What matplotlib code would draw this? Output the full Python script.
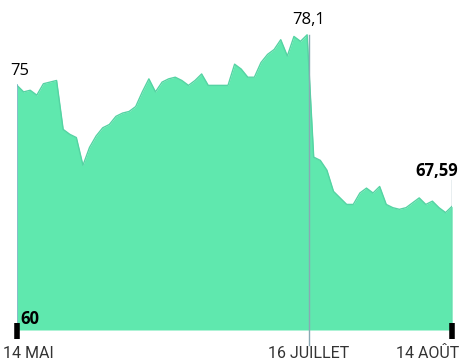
import matplotlib.pyplot as plt

# cours de clôture, séances du 14 mai au 14 août
cours = [75.0, 74.6, 74.7, 74.4, 75.1, 75.2, 75.3, 72.3, 72.0, 71.8,
         70.1, 71.2, 71.9, 72.4, 72.6, 73.1, 73.3, 73.4, 73.7, 74.6,
         75.4, 74.6, 75.2, 75.4, 75.5, 75.3, 75.0, 75.3, 75.7, 75.0,
         75.0, 75.0, 75.0, 76.3, 76.0, 75.5, 75.5, 76.4, 76.9, 77.2,
         77.8, 76.8, 78.0, 77.7, 78.1, 70.6, 70.4, 69.8, 68.5, 68.1,
         67.7, 67.7, 68.4, 68.7, 68.4, 68.8, 67.7, 67.5, 67.4, 67.5,
         67.8, 68.1, 67.7, 67.9, 67.5, 67.2, 67.59]
dates = ["14 MAI", "16 JUILLET", "14 AOÛT"]
idx_dates = [0, 44, 66]
base = 60

x = list(range(len(cours)))
vert = "#5fe8ae"
trait = "#8aa9b4"

fig = plt.figure(figsize=(4.6, 3.62), dpi=100)
ax = fig.add_axes([0.037, 0.0884, 0.946, 0.856])
ax.fill_between(x, base, cours, color=vert, linewidth=0)
ax.plot(x, cours, color="#55d3a3", linewidth=1)
ax.plot([0, 0], [base, cours[0]], color="#7fb4c8", linewidth=1.2)

# repères verticaux : sommet et dernier cours
ax.plot([idx_dates[1] + 0.3] * 2, [base - 0.9, max(cours)], color=trait, linewidth=1, clip_on=False)
ax.plot([idx_dates[2]] * 2, [base, 69.2], color=trait, linewidth=1)
ax.plot([0, 0], [base - 0.55, base + 0.45], color="black", linewidth=4, clip_on=False, solid_capstyle="butt")
ax.plot([66, 66], [base - 0.55, base + 0.45], color="black", linewidth=4, clip_on=False, solid_capstyle="butt")

ax.set_xlim(0, 66)
ax.set_ylim(base, 79)
ax.axis("off")

police = ["Open Sans", "DejaVu Sans"]
ax.text(-1.1, cours[0] + 0.4, "75", fontsize=12, family=police, va="bottom", ha="left")
ax.text(44.3, 78.1 + 0.4, "78,1", fontsize=12, family=police, va="bottom", ha="center")
ax.text(66.9, cours[-1] + 1.6, "67,59", fontsize=12, family=police, fontweight="bold", va="bottom", ha="right")
ax.text(0.5, base + 0.15, "60", fontsize=12, family=police, fontweight="bold", va="bottom", ha="left")

etiq = ["Roboto", "DejaVu Sans"]
for i, d in enumerate(dates):
    pos = [-2.1, idx_dates[1] + 0.3, 67.0][i]
    ha = ["left", "center", "right"][i]
    ax.text(pos, base - 1.0, d, fontsize=11.5, family=etiq,
            va="top", ha=ha, color="#333333")

fig.savefig("out.png", dpi=100)
